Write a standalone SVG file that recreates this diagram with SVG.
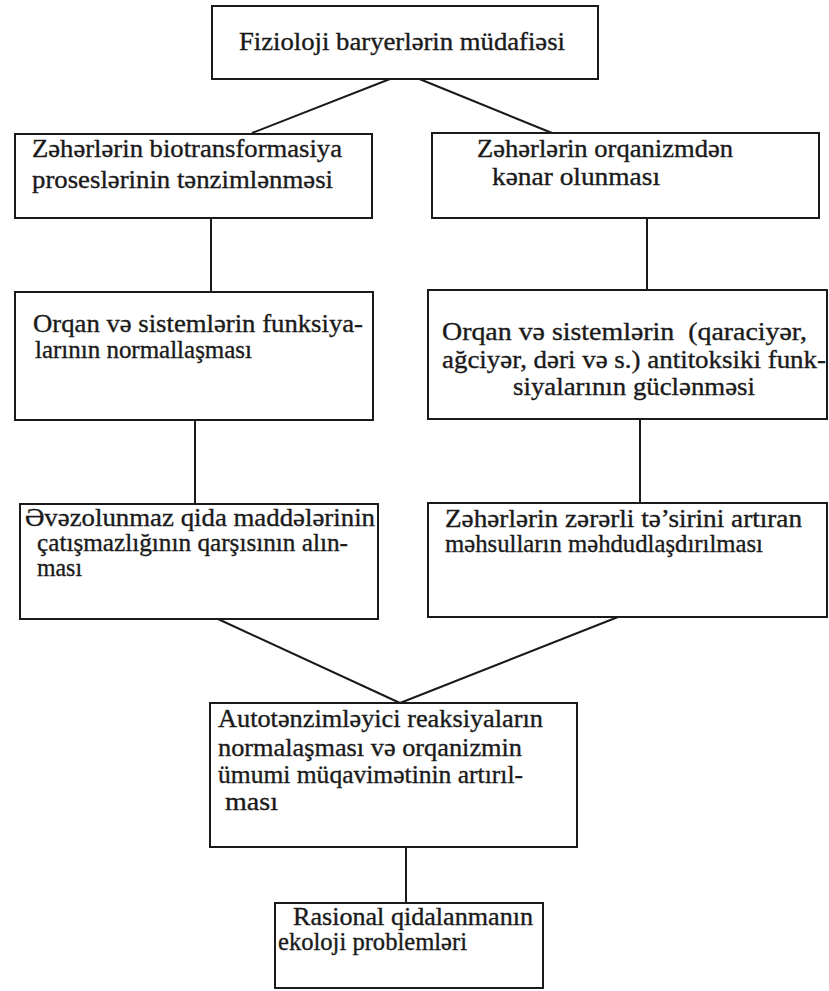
<svg xmlns="http://www.w3.org/2000/svg" width="829" height="991" viewBox="0 0 829 991">
<style>
.box{fill:#fff;stroke:#1a1a1a;stroke-width:2}
.t{font-family:"Liberation Serif","Times New Roman",serif;font-size:25px;fill:#1a1a1a;stroke:#1a1a1a;stroke-width:0.35}
.c{stroke:#1a1a1a;stroke-width:2;fill:none}
</style>
<rect width="829" height="991" fill="#fff"/>
<g id="connectors">
<line class="c" x1="390" y1="79" x2="252" y2="133"/>
<line class="c" x1="417" y1="78" x2="552" y2="133"/>
<line class="c" x1="211" y1="218" x2="211" y2="292"/>
<line class="c" x1="647" y1="218" x2="647" y2="290"/>
<line class="c" x1="195" y1="420" x2="195" y2="504"/>
<line class="c" x1="640" y1="419" x2="640" y2="503"/>
<line class="c" x1="218" y1="619" x2="400" y2="703"/>
<line class="c" x1="618" y1="617" x2="400" y2="703"/>
<line class="c" x1="406" y1="847" x2="406" y2="903"/>
</g>
<g id="n1">
<rect class="box" x="212" y="6" width="386" height="73"/>
<text class="t" x="239" y="50" textLength="326" lengthAdjust="spacingAndGlyphs">Fizioloji baryerlərin müdafiəsi</text>
</g>
<g id="n2">
<rect class="box" x="15" y="134" width="357" height="84"/>
<text class="t" x="32" y="157" textLength="310" lengthAdjust="spacingAndGlyphs">Zəhərlərin biotransformasiya</text>
<text class="t" x="32" y="188" textLength="301" lengthAdjust="spacingAndGlyphs">proseslərinin tənzimlənməsi</text>
</g>
<g id="n3">
<rect class="box" x="432" y="133" width="387" height="85"/>
<text class="t" x="477" y="157" textLength="256" lengthAdjust="spacingAndGlyphs">Zəhərlərin orqanizmdən</text>
<text class="t" x="492" y="185" textLength="168" lengthAdjust="spacingAndGlyphs">kənar olunması</text>
</g>
<g id="n4">
<rect class="box" x="15" y="292" width="358" height="128"/>
<text class="t" x="33" y="332" textLength="330" lengthAdjust="spacingAndGlyphs">Orqan və sistemlərin funksiya-</text>
<text class="t" x="35" y="358" textLength="217" lengthAdjust="spacingAndGlyphs">larının normallaşması</text>
</g>
<g id="n5">
<rect class="box" x="428" y="290" width="399" height="129"/>
<text class="t" x="442" y="340" textLength="365" lengthAdjust="spacingAndGlyphs">Orqan və sistemlərin &#160;(qaraciyər,</text>
<text class="t" x="442" y="368" textLength="384" lengthAdjust="spacingAndGlyphs">ağciyər, dəri və s.) antitoksiki funk-</text>
<text class="t" x="513" y="395" textLength="242" lengthAdjust="spacingAndGlyphs">siyalarının güclənməsi</text>
</g>
<g id="n6">
<rect class="box" x="20" y="504" width="358" height="115"/>
<text class="t" x="25" y="526" textLength="350" lengthAdjust="spacingAndGlyphs">Əvəzolunmaz qida maddələrinin</text>
<text class="t" x="37" y="551" textLength="311" lengthAdjust="spacingAndGlyphs">çatışmazlığının qarşısının alın-</text>
<text class="t" x="37" y="576" textLength="45" lengthAdjust="spacingAndGlyphs">ması</text>
</g>
<g id="n7">
<rect class="box" x="428" y="503" width="399" height="114"/>
<text class="t" x="445" y="527" textLength="357" lengthAdjust="spacingAndGlyphs">Zəhərlərin zərərli tə’sirini artıran</text>
<text class="t" x="445" y="552" textLength="318" lengthAdjust="spacingAndGlyphs">məhsulların məhdudlaşdırılması</text>
</g>
<g id="n8">
<rect class="box" x="210" y="703" width="367" height="144"/>
<text class="t" x="218" y="727" textLength="325" lengthAdjust="spacingAndGlyphs">Autotənzimləyici reaksiyaların</text>
<text class="t" x="218" y="756" textLength="304" lengthAdjust="spacingAndGlyphs">normalaşması və orqanizmin</text>
<text class="t" x="218" y="783" textLength="305" lengthAdjust="spacingAndGlyphs">ümumi müqavimətinin artırıl-</text>
<text class="t" x="225" y="810" textLength="53" lengthAdjust="spacingAndGlyphs">ması</text>
</g>
<g id="n9">
<rect class="box" x="275" y="903" width="268" height="85"/>
<text class="t" x="293" y="925" textLength="240" lengthAdjust="spacingAndGlyphs">Rasional qidalanmanın</text>
<text class="t" x="278" y="950" textLength="189" lengthAdjust="spacingAndGlyphs">ekoloji problemləri</text>
</g>
</svg>
